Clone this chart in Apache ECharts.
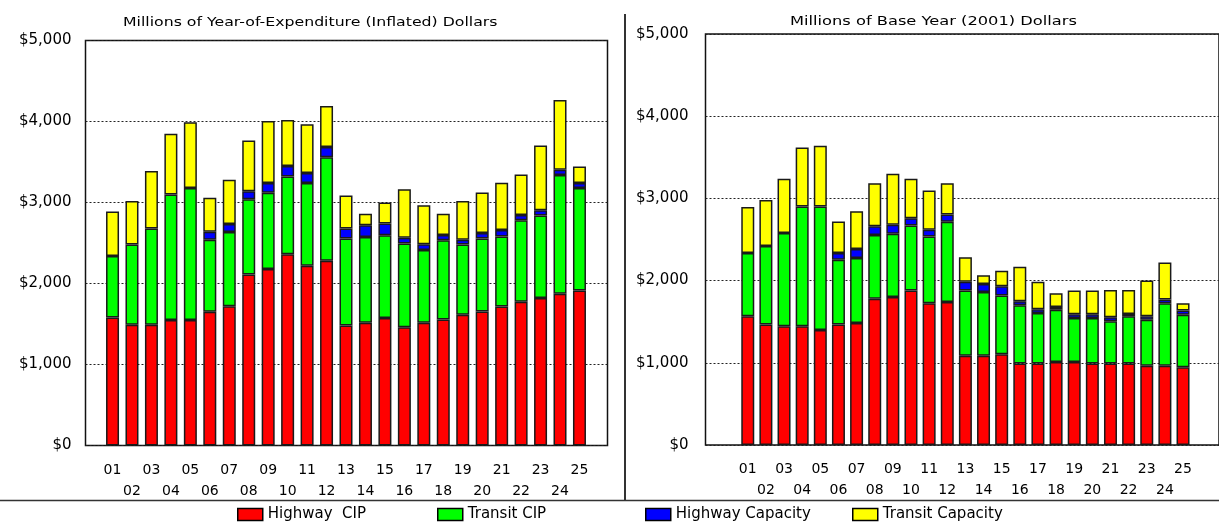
<!DOCTYPE html>
<html>
<head>
<meta charset="utf-8">
<script src="https://cdn.jsdelivr.net/npm/echarts@6/dist/echarts.min.js"></script>
<style>
  html, body { margin: 0; padding: 0; background: #fff; }
  #chart { width: 1219px; height: 523px; }
</style>
</head>
<body>
<div id="chart"></div>
<script>
// Fiscal years 2001-2025
const years = ['01','02','03','04','05','06','07','08','09','10','11','12','13',
               '14','15','16','17','18','19','20','21','22','23','24','25'];

// Millions of year-of-expenditure (inflated) dollars
const hwyCipInfl      = [1580,1490,1490,1550,1550,1650,1720,2110,2180,2360,2220,2280,1480,1515,1575,1460,1515,1555,1615,1655,1715,1775,1820,1875,1915];
const transitCipInfl  = [760,990,1190,1550,1630,890,915,930,940,960,1020,1280,1075,1060,1020,1035,900,980,865,900,865,1005,1020,1465,1265];
const hwyCapInfl      = [0,0,0,0,0,100,100,100,120,130,125,125,125,145,145,70,70,65,60,70,80,65,65,65,60];
const transitCapInfl  = [550,540,710,750,810,420,545,625,765,570,600,505,405,140,260,600,480,260,480,500,585,500,800,860,205];

// Millions of base year (2001) dollars
const hwyCipBase      = [1565,1465,1445,1445,1400,1465,1485,1780,1800,1880,1725,1740,1085,1085,1105,990,990,1010,1010,990,990,990,965,965,945];
const transitCipBase  = [770,955,1135,1455,1500,790,790,775,770,790,810,975,795,775,715,710,615,635,535,555,515,575,560,760,640];
const hwyCapBase      = [0,0,0,0,0,80,110,105,110,90,85,90,105,100,110,50,45,35,45,45,50,30,40,45,50];
const transitCapBase  = [560,560,660,720,740,385,460,525,620,480,475,380,300,105,190,420,335,165,290,290,330,290,435,450,90];

const seriesNames = ['Highway  CIP', 'Transit CIP', 'Highway Capacity', 'Transit Capacity'];
const seriesColors = ['#ff0000', '#00ff00', '#0000ff', '#ffff00'];

const yTicks = { min: 0, max: 5000, interval: 1000 };

const FONT = '"DejaVu Sans", Verdana, sans-serif';

const money = v => '$' + Number(v).toLocaleString('en-US');
// empty segments are left out so they don't leave a border line inside the stack
const segment = arr => arr.map(v => (v === 0 ? '-' : v));

const chart = echarts.init(document.getElementById('chart'), null, { renderer: 'canvas' });

// Each panel = an outer framed grid (y labels + dotted gridlines) and an inner grid holding the bars
const panels = [
  { frame: { left: 85.5, top: 40.5, width: 522, height: 405 },
    data:  { left: 102.8, top: 40.5, width: 486.4, height: 405 },
    labelMargin: 14,
    values: [hwyCipInfl, transitCipInfl, hwyCapInfl, transitCapInfl] },
  { frame: { left: 705.5, top: 34, width: 520, height: 411 },
    data:  { left: 738.7, top: 34, width: 453.4, height: 411 },
    labelMargin: 17,
    values: [hwyCipBase, transitCipBase, hwyCapBase, transitCapBase] }
];

const grid = [], xAxis = [], yAxis = [], series = [];

panels.forEach((p, pi) => {
  const gFrame = grid.length;
  grid.push(Object.assign({ show: true, borderColor: '#111', borderWidth: 1.5, backgroundColor: 'transparent' }, p.frame));
  xAxis.push({ gridIndex: gFrame, type: 'value', show: false, min: 0, max: 1 });
  yAxis.push({
    gridIndex: gFrame, type: 'value', min: yTicks.min, max: yTicks.max, interval: yTicks.interval,
    axisLine: { show: false }, axisTick: { show: false },
    axisLabel: { formatter: money, color: '#000', fontFamily: FONT, fontSize: 15, margin: p.labelMargin },
    splitLine: { show: true, lineStyle: { color: '#222', width: 1, type: [2, 2] } }
  });

  const gData = grid.length;
  grid.push(Object.assign({ show: false }, p.data));
  xAxis.push({
    gridIndex: gData, type: 'category', data: years, boundaryGap: true,
    axisLine: { show: false }, axisTick: { show: false },
    axisLabel: {
      interval: 0, color: '#000', fontFamily: FONT, fontSize: 14, lineHeight: 21, margin: 14,
      formatter: (val, idx) => (idx % 2 === 0 ? val : '\n' + val)
    }
  });
  yAxis.push({ gridIndex: gData, type: 'value', min: yTicks.min, max: yTicks.max, show: false, splitLine: { show: false } });

  seriesNames.forEach((name, si) => {
    series.push({
      name, type: 'bar', stack: 'panel' + pi,
      xAxisIndex: gData, yAxisIndex: gData,
      data: segment(p.values[si]),
      barWidth: 13,
      itemStyle: { color: seriesColors[si], borderColor: '#1a1a1a', borderWidth: 1.5 },
      emphasis: { disabled: true },
      animation: false
    });
  });
});

// One legend per entry, placed in evenly spaced columns along the bottom
const legendLefts = [232, 432, 640, 847];
const legend = seriesNames.map((name, i) => ({
  data: [name], left: legendLefts[i], top: 502,
  icon: 'rect', itemWidth: 25, itemHeight: 12, itemGap: 0,
  itemStyle: { borderColor: '#000', borderWidth: 1.5 },
  textStyle: { color: '#000', fontFamily: FONT, fontSize: 15 },
  selectedMode: false
}));

chart.setOption({
  backgroundColor: '#fff',
  animation: false,
  grid, xAxis, yAxis, series, legend,
  graphic: [
    { type: 'text', x: 123, y: 16, scaleX: 1.21,
      style: { text: 'Millions of Year-of-Expenditure (Inflated) Dollars', fill: '#000', font: '13px ' + FONT } },
    { type: 'text', x: 790, y: 15, scaleX: 1.25,
      style: { text: 'Millions of Base Year (2001) Dollars', fill: '#000', font: '13px ' + FONT } },
    { type: 'line', shape: { x1: 625, y1: 14, x2: 625, y2: 500 }, style: { stroke: '#333', lineWidth: 2 } },
    { type: 'line', shape: { x1: 0, y1: 500.5, x2: 1219, y2: 500.5 }, style: { stroke: '#333', lineWidth: 1.5 } }
  ]
});
</script>
</body>
</html>
